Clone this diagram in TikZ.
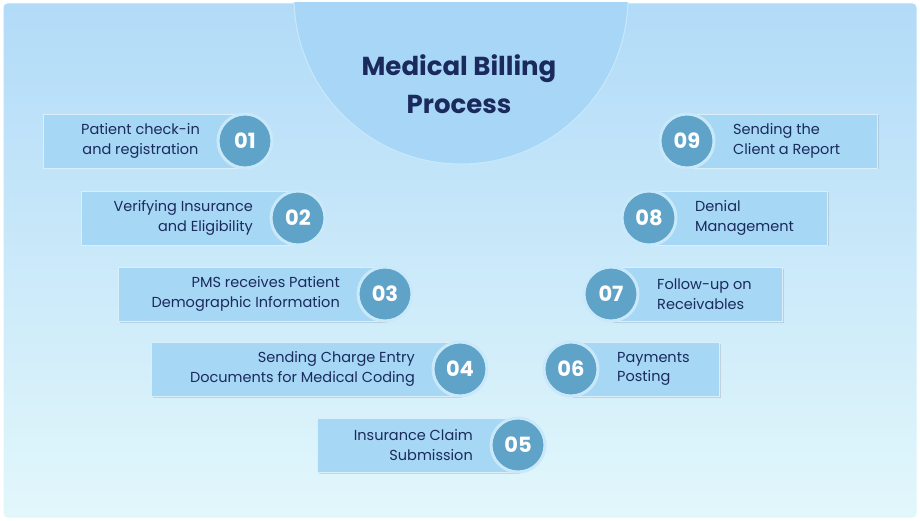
\documentclass[tikz,border=0pt]{standalone}
\usepackage{fontspec}
\setmainfont{Poppins}
\usetikzlibrary{shadows}
\definecolor{bgtop}{HTML}{B2DBF8}
\definecolor{bgbot}{HTML}{E2F7FB}
\definecolor{boxc}{HTML}{A6D7F4}
\definecolor{circc}{HTML}{5FA3C8}
\definecolor{ringc}{HTML}{C9E9FA}
\definecolor{navy}{HTML}{1B2A5C}
\definecolor{topc}{HTML}{A8D6F7}
\begin{document}
\begin{tikzpicture}[x=1pt,y=-1pt,
  box/.style={fill=boxc,draw=white!60!boxc,line width=0.6pt,drop shadow={opacity=0.25,shadow xshift=1.5pt,shadow yshift=-1.5pt}},
  num/.style={circle,fill=circc,draw=ringc,line width=3pt,minimum size=54pt,text=white,font=\bfseries\fontsize{21}{21}\selectfont,inner sep=0pt},
  lbl/.style={text=navy,font=\fontsize{14.5}{19.5}\selectfont,inner sep=0pt}]
\useasboundingbox (0,0) rectangle (920,521);
\shade[top color=bgtop,bottom color=bgbot,draw=white,line width=1pt,rounded corners=4pt] (3,3) rectangle (917,518);
\begin{scope}
\clip (3,3) rectangle (917,518);
\fill[topc,draw=ringc,line width=1pt] (461,-3) circle (167);
\end{scope}
\node[text=navy,font=\bfseries\fontsize{26}{38}\selectfont,align=center] (title) at (459,84) {Medical Billing\\Process};
% left
\foreach \n/\x/\y/\l/\al/\t in {01/245/141/43/center/{Patient check-in\\and registration},02/298/218/81/right/{Verifying Insurance\\and Eligibility},03/385/294/118/right/{PMS receives Patient\\Demographic Information},04/460/369/151/right/{Sending Charge Entry\\Documents for Medical Coding},05/518/445/317/right/{Insurance Claim\\Submission}}{
  \node[box,minimum width={\x-\l},minimum height=54pt,anchor=west,inner sep=0pt] (b\n) at (\l,\y) {};
  \node[num] (c\n) at (\x,\y) {\n};
  \node[lbl,align=\al,anchor=east] (t\n) at (\x-45,\y) {\t};
}
% right
\foreach \n/\x/\y/\r/\t in {09/687/141/877/{Sending the\\Client a Report},08/649/218/827/{Denial\\Management},07/611/294/782/{Follow-up on\\Receivables},06/571/369/719/{Payments\\Posting}}{
  \node[box,minimum width={\r-\x},minimum height=54pt,anchor=west,inner sep=0pt] (b\n) at (\x,\y) {};
  \node[num] (c\n) at (\x,\y) {\n};
  \node[lbl,align=left,anchor=west] (t\n) at (\x+46,\y) {\t};
}
\end{tikzpicture}
\end{document}
